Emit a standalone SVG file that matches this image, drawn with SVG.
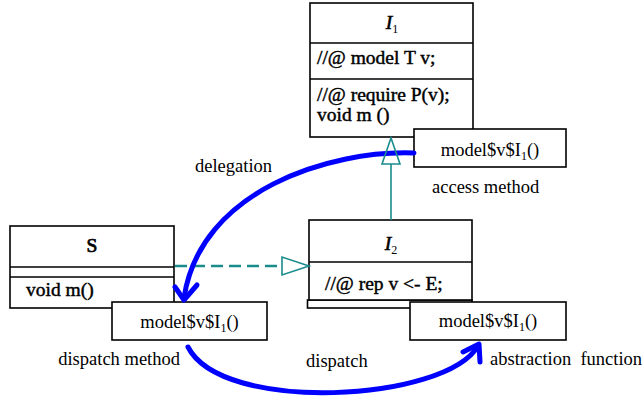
<svg xmlns="http://www.w3.org/2000/svg" width="643" height="397" viewBox="0 0 643 397">
<style>
.box{fill:#fff;stroke:#000;stroke-width:1.6}
.ln{stroke:#000;stroke-width:1.6}
text{font-family:"Liberation Serif","Times New Roman",serif;font-size:18.5px;fill:#000}
.b{font-size:19.5px;stroke:#000;stroke-width:0.45}
.t{font-style:italic;font-size:19.5px;stroke:#000;stroke-width:0.6}
.sub{font-size:12px;font-style:normal;stroke-width:0}
.blue{fill:none;stroke:#0000ff;stroke-width:5;stroke-linecap:round;stroke-linejoin:round}
.teal{fill:none;stroke:#1a8c8c;stroke-width:1.6}
</style>
<rect width="643" height="397" fill="#fff"/>
<g id="I1">
<rect class="box" x="310" y="3" width="163" height="134"/>
<line class="ln" x1="310" y1="43" x2="473" y2="43"/>
<line class="ln" x1="310" y1="79" x2="473" y2="79"/>
<text class="t" x="392" y="29" text-anchor="middle">I<tspan class="sub" dy="4">1</tspan></text>
<text class="b" x="317" y="64">//@ model T v;</text>
<text class="b" x="317" y="101">//@ require P(v);</text>
<text class="b" x="317" y="121">void m ()</text>
</g>
<g id="S">
<rect class="box" x="10" y="226" width="164" height="82"/>
<line class="ln" x1="10" y1="267" x2="174" y2="267"/>
<line class="ln" x1="10" y1="277" x2="174" y2="277"/>
<text class="b" x="92" y="252" text-anchor="middle" style="stroke-width:0.7">S</text>
<text class="b" x="26" y="296">void m()</text>
</g>
<g id="I2">
<rect class="box" x="307.5" y="300" width="164.5" height="8"/>
<rect class="box" x="309" y="220" width="163" height="80"/>
<line class="ln" x1="309" y1="262" x2="472" y2="262"/>
<text class="t" x="391" y="250" text-anchor="middle">I<tspan class="sub" dy="4">2</tspan></text>
<text class="b" x="325" y="290">//@ rep v &lt;- E;</text>
</g>
<g id="access">
<rect class="box" x="414" y="129" width="152" height="38"/>
<text x="490" y="156" text-anchor="middle">model$v$I<tspan class="sub" dy="4">1</tspan><tspan dy="-4">()</tspan></text>
</g>
<g id="dispatchbox">
<rect class="box" x="112" y="302" width="155" height="38"/>
<text x="189.5" y="328" text-anchor="middle">model$v$I<tspan class="sub" dy="4">1</tspan><tspan dy="-4">()</tspan></text>
</g>
<g id="abstraction">
<rect class="box" x="410" y="302" width="156" height="38"/>
<text x="488" y="327" text-anchor="middle">model$v$I<tspan class="sub" dy="4">1</tspan><tspan dy="-4">()</tspan></text>
</g>
<g id="connectors">
<line x1="175" y1="266" x2="282" y2="266" stroke="#1a8c8c" stroke-width="2.6" stroke-dasharray="12,6"/>
<polygon class="teal" points="309,266 282,257 282,275" fill="#fff"/>
<path class="blue" d="M414,153 C330,150 200,190 184,298"/>
<polyline class="blue" points="175,287 184,300 197,285"/>
<path class="blue" d="M188,347 C222,414 445,402 478,346"/>
<polyline class="blue" points="463,352 479,344 480,362"/>
<line class="teal" x1="391" y1="220" x2="391" y2="164"/>
<polygon class="teal" points="391,138 382,164 400,164" fill="#fff"/>
</g>
<g id="labels">
<text x="195" y="172">delegation</text>
<text x="432" y="193">access method</text>
<text x="180" y="365" text-anchor="end">dispatch method</text>
<text x="306" y="367">dispatch</text>
<text x="490" y="365" xml:space="preserve">abstraction  function</text>
</g>
</svg>
